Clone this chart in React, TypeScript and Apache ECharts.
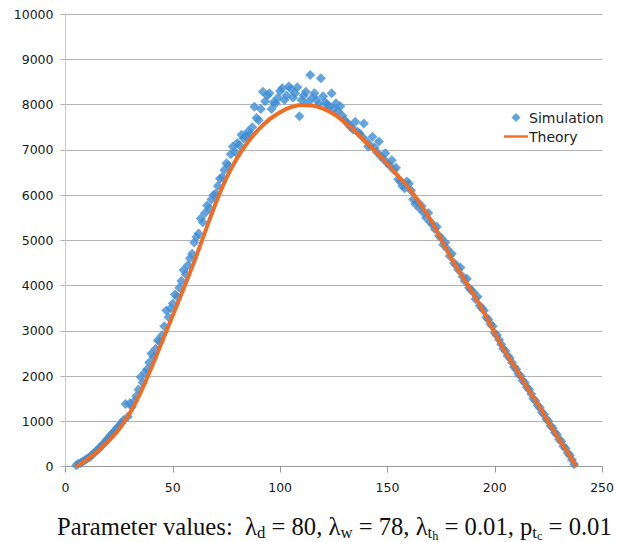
import React, { useEffect, useRef } from "react";
import * as echarts from "echarts";

// Simulation points (x, y)
const simX = [
  5, 6, 7, 8, 9, 10, 11, 12, 13, 14, 15, 16, 17, 18, 19, 20, 21, 22, 23, 24, 25, 26, 27, 28, 29,
  30, 31, 32, 33, 34, 35, 36, 37, 38, 39, 40, 41, 42, 43, 44, 45, 46, 47, 48, 49, 50, 51, 52, 53, 54,
  55, 56, 57, 58, 59, 60, 61, 62, 63, 64, 65, 66, 67, 68, 69, 70, 71, 72, 73, 74, 75, 76, 77, 78, 79,
  80, 81, 82, 83, 84, 85, 86, 87, 88, 89, 90, 91, 92, 93, 94, 95, 96, 97, 98, 99, 100, 101, 102, 103, 104,
  105, 106, 107, 108, 109, 110, 111, 112, 113, 114, 115, 116, 117, 118, 119, 120, 121, 122, 123, 124, 125, 126, 127, 128, 129,
  130, 131, 132, 133, 134, 135, 136, 137, 138, 139, 140, 141, 142, 143, 144, 145, 146, 147, 148, 149, 150, 151, 152, 153, 154,
  155, 156, 157, 158, 159, 160, 161, 162, 163, 164, 165, 166, 167, 168, 169, 170, 171, 172, 173, 174, 175, 176, 177, 178, 179,
  180, 181, 182, 183, 184, 185, 186, 187, 188, 189, 190, 191, 192, 193, 194, 195, 196, 197, 198, 199, 200, 201, 202, 203, 204,
  205, 206, 207, 208, 209, 210, 211, 212, 213, 214, 215, 216, 217, 218, 219, 220, 221, 222, 223, 224, 225, 226, 227, 228, 229,
  230, 231, 232, 233, 234, 235, 236, 237,
];
const simY = [
  30, 60, 80, 110, 140, 170, 200, 240, 290, 330, 370, 420, 470, 520, 580, 630, 690, 740, 790, 850, 900, 960, 1020, 1380, 1100,
  1400, 1320, 1450, 1560, 1700, 1980, 1850, 2080, 2150, 2300, 2500, 2420, 2600, 2790, 2750, 2900, 3100, 3450, 3300, 3500, 3600, 3800, 3750, 3950, 4100,
  4340, 4250, 4450, 4600, 4700, 4950, 5070, 5150, 5480, 5400, 5600, 5770, 5700, 5900, 6000, 6030, 6200, 6360, 6400, 6550, 6700, 6650, 6900, 7070, 6950,
  7150, 7100, 7330, 7250, 7300, 7400, 7350, 7500, 7950, 7700, 7650, 7900, 8280, 8070, 8200, 8250, 7900, 8050, 8030, 8150, 8300, 8360, 8100, 8200, 8400,
  8350, 8150, 8250, 8380, 7740, 8100, 8200, 8280, 8050, 8650, 8150, 8250, 8100, 8000, 8580, 8180, 8050, 8000, 7950, 8250, 7900, 8030, 7850, 7960, 7750,
  7660, 7600, 7550, 7500, 7450, 7620, 7400, 7360, 7300, 7580, 7200, 7070, 7100, 7290, 7050, 6950, 7180, 6850, 6800, 6920, 6700, 6650, 6770, 6550, 6600,
  6350, 6300, 6200, 6150, 6300, 6250, 6100, 5900, 5800, 5850, 5700, 5750, 5600, 5500, 5600, 5400, 5350, 5250, 5300, 5100, 5050, 4900, 4950, 4800, 4650,
  4700, 4500, 4450, 4350, 4400, 4200, 4100, 4150, 3950, 3900, 3850, 3700, 3750, 3550, 3500, 3450, 3300, 3250, 3150, 3100, 2950, 2900, 2800, 2700, 2600,
  2550, 2450, 2400, 2300, 2200, 2150, 2050, 2000, 1900, 1850, 1750, 1700, 1600, 1500, 1450, 1350, 1300, 1200, 1150, 1050, 1000, 900, 850, 750, 700,
  600, 550, 450, 400, 300, 250, 150, 50,
];

// Theory curve
const theoryX = [
  5, 10, 15, 20, 25, 30, 35, 40, 45, 50, 55, 60, 65, 70, 75, 80, 85, 90, 95, 100, 105, 110, 115, 120,
  125, 130, 135, 140, 145, 150, 155, 160, 165, 170, 175, 180, 185, 190, 195, 200, 205, 210, 215, 220,
  225, 230, 235, 238,
];
const theoryY = [
  0, 150, 340, 560, 830, 1180, 1640, 2180, 2760, 3340, 3930, 4530, 5180, 5820, 6380, 6820, 7170, 7450, 7670, 7830, 7940, 7990, 7980, 7910,
  7790, 7610, 7400, 7170, 6930, 6680, 6420, 6150, 5820, 5460, 5020, 4580, 4190, 3810, 3400, 2950, 2520, 2150, 1750, 1380,
  980, 600, 230, 0,
];

const seriesNames = ["Simulation", "Theory"];

// Caption: [text, level] (level 0 = normal, 1 = subscript, 2 = sub-subscript)
const captionParts: [string, number][] = [
  ["Parameter values:  λ", 0],
  ["d", 1],
  [" = 80, λ", 0],
  ["w", 1],
  [" = 78, λ", 0],
  ["t", 1],
  ["h", 2],
  [" = 0.01, p", 0],
  ["t", 1],
  ["c", 2],
  [" = 0.01", 0],
];

const FONT_SERIF = '"Liberation Serif", "Times New Roman", serif';
const FONT_SANS = '"DejaVu Sans", sans-serif';

function buildCaption(): any[] {
  const canvas = document.createElement("canvas");
  const ctx = canvas.getContext("2d")!;
  const scales = [1, 0.68, 0.5];
  const drops = [0, 3.5, 5.5];
  const measure = (t: string, size: number) => {
    ctx.font = `${size}px ${FONT_SERIF}`;
    return ctx.measureText(t).width;
  };
  const base = 24;
  let total = 0;
  captionParts.forEach(([t, l]) => (total += measure(t, base * scales[l])));
  const targetW = 555;
  const S = base * (targetW / total);
  const startX = 57;
  const baseline = 534.5;
  const els: any[] = [];
  let x = startX;
  captionParts.forEach(([t, l]) => {
    const size = S * scales[l];
    const lead = t.length - t.trimStart().length;
    const leadW = lead ? measure(t.slice(0, lead), size) : 0;
    const trimmed = t.trim();
    els.push({
      type: "text",
      x: x + leadW,
      y: baseline + drops[l] - 0.3375 * size,
      silent: true,
      style: {
        text: trimmed,
        fontSize: size,
        lineHeight: size,
        fontFamily: FONT_SERIF,
        fill: "#111",
        align: "left",
        verticalAlign: "middle",
      },
    });
    x += measure(t, size);
  });
  return els;
}

export default function App() {
  const ref = useRef<HTMLDivElement>(null);
  useEffect(() => {
    if (!ref.current) return;
    const chart = echarts.init(ref.current, null, { renderer: "svg" });
    const axisLabel = { fontFamily: FONT_SANS, fontSize: 12.5, color: "#1a1a1a" };
    chart.setOption({
      animation: false,
      backgroundColor: "#ffffff",
      grid: { left: 65.5, right: 12.6, top: 14, bottom: 75.5, containLabel: false },
      xAxis: {
        type: "value",
        min: 0,
        max: 250,
        interval: 50,
        axisLine: { show: true, onZero: false, lineStyle: { color: "#9a9a9a", width: 1 } },
        axisTick: { show: true, length: 6, lineStyle: { color: "#9a9a9a" } },
        splitLine: { show: false },
        axisLabel: { ...axisLabel, margin: 14, formatter: (v: number) => String(v) },
      },
      yAxis: {
        type: "value",
        min: 0,
        max: 10000,
        interval: 1000,
        axisLine: { show: true, lineStyle: { color: "#cccccc", width: 1 } },
        axisTick: { show: true, length: 5, lineStyle: { color: "#b3b3b3" } },
        splitLine: { show: true, lineStyle: { color: "#b3b3b3", width: 1 } },
        axisLabel: { ...axisLabel, margin: 12, formatter: (v: number) => String(v) },
      },
      legend: {
        orient: "vertical",
        left: 499,
        top: 105.5,
        itemWidth: 24,
        itemHeight: 9,
        itemGap: 5,
        data: [
          { name: seriesNames[0], icon: "path://M0,0M24,9M7.5,4.5L12,0L16.5,4.5L12,9Z" },
          { name: seriesNames[1], icon: "path://M0,0M24,9M0,3.3H24V5.7H0Z" },
        ],
        textStyle: { fontFamily: FONT_SANS, fontSize: 14, color: "#222", padding: [0, 0, 0, -4] },
      },
      series: [
        {
          name: seriesNames[0],
          type: "scatter",
          symbol: "diamond",
          symbolSize: 10,
          itemStyle: { color: "#3c8dd6" },
          data: simX.map((x, i) => [x, simY[i]]),
          z: 2,
        },
        {
          name: seriesNames[1],
          type: "line",
          smooth: 0.4,
          symbol: "none",
          showSymbol: false,
          lineStyle: { color: "#f26b22", width: 4 },
          itemStyle: { color: "#f26b22" },
          data: theoryX.map((x, i) => [x, theoryY[i]]),
          z: 3,
        },
      ],
      graphic: buildCaption(),
    });
    return () => chart.dispose();
  }, []);
  return (
    <div
      ref={ref}
      style={{ position: "absolute", left: 0, top: 0, width: 617, height: 542 }}
    />
  );
}
